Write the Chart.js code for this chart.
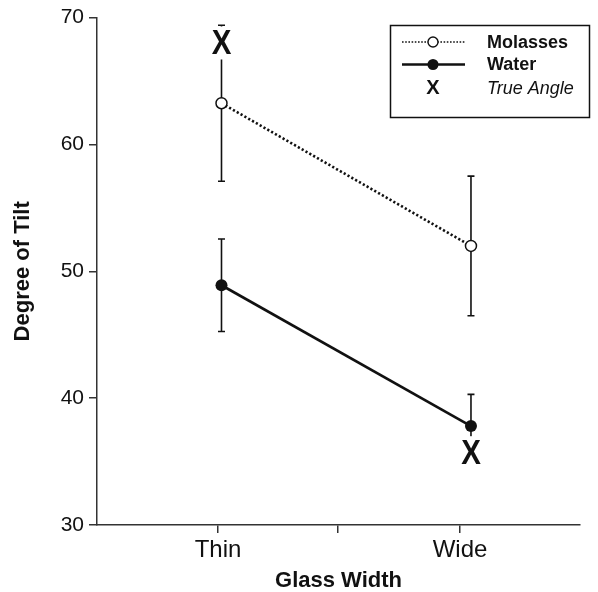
<!DOCTYPE html>
<html><head><meta charset="utf-8">
<script src="https://cdn.jsdelivr.net/npm/chart.js@4/dist/chart.umd.min.js"></script>
<style>html,body{margin:0;padding:0;background:#fff}</style>
</head><body>
<canvas id="c" width="598" height="592"></canvas>
<script>
const categories = ['Thin', 'Wide'];
const molassesMean = [63.25, 52.0];
const molassesErr = [6.15, 5.5];
const waterMean = [48.9, 37.8];
const waterErr = [3.65, 2.5];
const trueAngle = [68.0, 35.7];
const yTicks = [30, 40, 50, 60, 70];
const xTickLabels = ['Thin', '', 'Wide'];
const legendLabels = ['Molasses', 'Water', 'True Angle'];

const FONT = "'Liberation Sans', Arial, Helvetica, sans-serif";
const INK = '#111';

const toPts = arr => arr.map((v, i) => ({x: i, y: v}));

const errorBars = {
  id: 'errorBars',
  beforeDatasetsDraw(chart) {
    const ctx = chart.ctx, ys = chart.scales.y;
    [[0, molassesErr], [1, waterErr]].forEach(([di, errs]) => {
      const meta = chart.getDatasetMeta(di);
      const means = chart.data.datasets[di].data;
      meta.data.forEach((el, i) => {
        const x = el.x;
        const top = ys.getPixelForValue(means[i].y + errs[i]);
        const bot = ys.getPixelForValue(means[i].y - errs[i]);
        ctx.save();
        ctx.strokeStyle = INK; ctx.lineWidth = 1.6;
        ctx.beginPath();
        ctx.moveTo(x, top); ctx.lineTo(x, bot);
        ctx.moveTo(x - 3.5, top); ctx.lineTo(x + 3.5, top);
        ctx.moveTo(x - 3.5, bot); ctx.lineTo(x + 3.5, bot);
        ctx.stroke();
        ctx.restore();
      });
    });
  },
  afterDatasetsDraw(chart) {
    const ctx = chart.ctx;
    const meta = chart.getDatasetMeta(2);
    meta.data.forEach(el => {
      ctx.save();
      ctx.fillStyle = '#fff';
      ctx.fillRect(el.x - 12, el.y - 16.5, 24, 33);
      ctx.fillStyle = INK;
      ctx.translate(el.x, el.y + 1);
      ctx.scale(0.95, 1.15);
      ctx.font = "bold 31px " + FONT;
      ctx.textAlign = 'center';
      ctx.textBaseline = 'middle';
      ctx.fillText('X', 0, 0);
      ctx.restore();
    });
  },
  afterDraw(chart) {
    const ctx = chart.ctx;
    ctx.save();
    ctx.strokeStyle = INK; ctx.lineWidth = 1.5;
    ctx.strokeRect(390.5, 25.5, 199, 92);
    const rows = [42, 64.5, 87.5];
    // Molasses sample
    ctx.setLineDash([1.6, 1.6]);
    ctx.lineWidth = 1.6;
    ctx.beginPath(); ctx.moveTo(402, rows[0]); ctx.lineTo(465, rows[0]); ctx.stroke();
    ctx.setLineDash([]);
    ctx.beginPath(); ctx.arc(433, rows[0], 5, 0, Math.PI * 2);
    ctx.fillStyle = '#fff'; ctx.fill(); ctx.lineWidth = 1.4; ctx.stroke();
    // Water sample
    ctx.lineWidth = 2.6;
    ctx.beginPath(); ctx.moveTo(402, rows[1]); ctx.lineTo(465, rows[1]); ctx.stroke();
    ctx.beginPath(); ctx.arc(433, rows[1], 5.5, 0, Math.PI * 2);
    ctx.fillStyle = INK; ctx.fill();
    // X sample
    ctx.font = "bold 20px " + FONT;
    ctx.textAlign = 'center'; ctx.textBaseline = 'middle';
    ctx.fillText('X', 433, rows[2] + 1);
    // Labels
    ctx.textAlign = 'left';
    ctx.font = "bold 18px " + FONT;
    ctx.fillText(legendLabels[0], 487, rows[0] + 1);
    ctx.fillText(legendLabels[1], 487, rows[1] + 1);
    ctx.font = "italic 18px " + FONT;
    ctx.fillText(legendLabels[2], 487, rows[2] + 1);
    ctx.restore();
  }
};

new Chart(document.getElementById('c'), {
  type: 'line',
  data: {
    datasets: [
      {
        label: legendLabels[0],
        data: toPts(molassesMean),
        borderColor: INK, borderWidth: 2.6, borderDash: [2.2, 2.2],
        pointRadius: 5.5, pointBackgroundColor: '#fff', pointBorderColor: INK, pointBorderWidth: 1.5,
        fill: false, tension: 0
      },
      {
        label: legendLabels[1],
        data: toPts(waterMean),
        borderColor: INK, borderWidth: 2.6,
        pointRadius: 6, pointBackgroundColor: INK, pointBorderColor: INK, pointBorderWidth: 0,
        fill: false, tension: 0
      },
      {
        label: legendLabels[2],
        data: toPts(trueAngle),
        showLine: false, pointRadius: 0, borderWidth: 0
      }
    ]
  },
  options: {
    responsive: false,
    animation: false,
    layout: {padding: {left: 0, right: 18, top: 17, bottom: 0}},
    plugins: {legend: {display: false}, tooltip: {enabled: false}},
    scales: {
      x: {
        type: 'linear', min: -0.499, max: 1.437,
        afterBuildTicks: s => { s.ticks = [-0.014, 0.467, 0.956].map(v => ({value: v})); },
        afterFit: s => { s.height = 67; },
        ticks: {
          callback: (v, i) => xTickLabels[i],
          font: {family: FONT, size: 24}, color: INK, padding: 3,
          maxRotation: 0, autoSkip: false
        },
        grid: {display: true, drawOnChartArea: false, drawTicks: true, tickLength: 8, color: '#333', lineWidth: 1.5},
        border: {display: true, color: '#333', width: 1.5},
        title: {display: true, text: 'Glass Width', color: INK,
          font: {family: FONT, size: 22, weight: 'bold', lineHeight: 1}, padding: {top: 0, bottom: 0}}
      },
      y: {
        type: 'linear', min: 30, max: 70,
        afterBuildTicks: s => { s.ticks = yTicks.map(v => ({value: v})); },
        afterFit: s => { s.width = 97; },
        ticks: {font: {family: FONT, size: 21}, color: INK, padding: 5},
        grid: {display: true, drawOnChartArea: false, drawTicks: true, tickLength: 8, color: '#333', lineWidth: 1.5},
        border: {display: true, color: '#333', width: 1.5},
        title: {display: true, text: 'Degree of Tilt', color: INK,
          font: {family: FONT, size: 22, weight: 'bold', lineHeight: 1}, padding: {top: 12, bottom: 0}}
      }
    }
  },
  plugins: [errorBars]
});
</script>
</body></html>
